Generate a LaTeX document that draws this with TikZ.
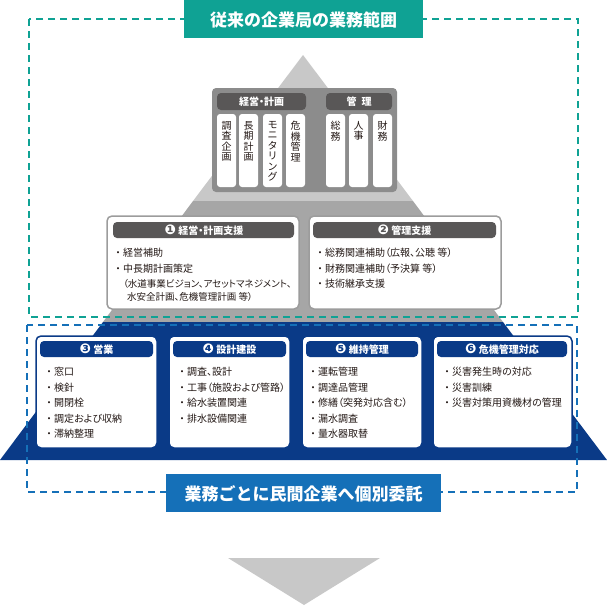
\documentclass[tikz,border=0pt]{standalone}
\usepackage{fontspec}
\setmainfont{Noto Sans CJK JP}
\newfontfamily\jpp[RawFeature=+palt]{Noto Sans CJK JP}
\newfontfamily\dvs{DejaVu Sans}
\newcommand\bul{{\rmfamily ・}}
\newcommand\cnum[1]{\raisebox{-0.5pt}{\dvs\fontsize{13.5}{13.5}\selectfont #1}}
\definecolor{teal1}{HTML}{0FA294}
\definecolor{navy}{HTML}{0A3A87}
\definecolor{midblue}{HTML}{1570B8}
\definecolor{lgray}{HTML}{C8C8C8}
\definecolor{mgray}{HTML}{A6A6A6}
\definecolor{boxgray}{HTML}{8C8C8C}
\definecolor{dgray}{HTML}{595757}
\definecolor{bordgray}{HTML}{9C9C9C}
\definecolor{txt}{HTML}{231815}

\begin{document}
\begin{tikzpicture}[x=1pt,y=-1pt,
  dline/.style={line width=2.6pt,dash pattern=on 7pt off 5pt},
  ttl/.style={text=white,inner sep=0,font=\fontsize{17}{17}\selectfont\bfseries},
  htxt/.style={text=white,inner sep=0,font=\jpp\fontsize{10}{10}\selectfont\bfseries},
  ctxt/.style={anchor=north,inner sep=0,text width=12pt,align=center,text=txt,font=\fontsize{10}{10.5}\selectfont},
  body/.style={anchor=base west,inner sep=0,text=txt,font=\jpp\fontsize{10}{10}\selectfont},
  mbox/.style={fill=white,draw=bordgray,line width=1.5pt,rounded corners=5pt},
  bbox/.style={fill=white,draw=navy,line width=1.5pt,rounded corners=5pt}]
\useasboundingbox (0,0) rectangle (607,605);
\fill[lgray] (303,55) -- (413,201) -- (193,201) -- cycle;
\fill[mgray] (193,201) -- (413,201) -- (503,322) -- (103,322) -- cycle;
\fill[navy] (103,322) -- (503,322) -- (607,460) -- (0,460) -- cycle;
\draw[dline,teal1] (29,19) rectangle (578,317);
\draw[dline,midblue] (27,325) rectangle (577,492);
\fill[teal1] (184,0) rectangle (423,38);
\node[ttl] (title) at (303.5,19.5) {従来の企業局の業務範囲};
\fill[boxgray,rounded corners=4pt] (212,88) rectangle (397,192);
\fill[dgray,rounded corners=4pt] (217,93) rectangle (306,110);
\node[htxt] (k1) at (261.5,101.5) {経営・計画};
\fill[dgray,rounded corners=4pt] (326,93) rectangle (392,110);
\node[htxt] (k2) at (359,101.5) {管\hspace{5pt}理};
\foreach \x/\t [count=\i] in {217/{調\\査\\企\\画},239/{長\\期\\計\\画},263/{モ\\ニ\\タ\\リ\\ン\\グ},286/{危\\機\\管\\理},326/{総\\務},349/{人\\事},373/{財\\務}}{
  \fill[white,rounded corners=3pt] (\x,114) rectangle ++(19,73);
  \node[ctxt] (c\i) at (\x+9.5,121) {\t};
}
\draw[mbox] (107,216) rectangle (299,309);
\draw[mbox] (309,216) rectangle (501,309);
\fill[dgray,rounded corners=4pt] (113,222) rectangle (294,238);
\fill[dgray,rounded corners=4pt] (313,222) rectangle (496,238);
\node[htxt] (h1) at (204,230) {\cnum{❶}\ 経営・計画支援};
\node[htxt] (h2) at (404.5,230) {\cnum{❷}\ 管理支援};
\node[body] (a1) at (113,256.5) {\bul 経営補助};
\node[body] (a2) at (113,272.5) {\bul 中長期計画策定};
\node[body,font=\jpp\fontsize{9.5}{10}\selectfont] (a3) at (123,287.5) {（水道事業ビジョン、アセットマネジメント、};
\node[body,font=\jpp\fontsize{9.5}{10}\selectfont] (a4) at (127,300.5) {水安全計画、危機管理計画 等）};
\node[body] (b1) at (315,256.5) {\bul 総務関連補助（広報、公聴 等）};
\node[body] (b2) at (315,272.5) {\bul 財務関連補助（予決算 等）};
\node[body] (b3) at (315,287.5) {\bul 技術継承支援};
\draw[bbox] (36,336) rectangle (157,448);
\draw[bbox] (169,336) rectangle (290,448);
\draw[bbox] (302,336) rectangle (422,448);
\draw[bbox] (433,336) rectangle (572,448);
\fill[navy,rounded corners=4pt] (40,341) rectangle (153,357);
\fill[navy,rounded corners=4pt] (173,341) rectangle (286,357);
\fill[navy,rounded corners=4pt] (306,341) rectangle (418,357);
\fill[navy,rounded corners=4pt] (437,341) rectangle (567,357);
\node[htxt] (h3) at (96.5,349) {\cnum{❸}\ 営業};
\node[htxt] (h4) at (229.5,349) {\cnum{❹}\ 設計建設};
\node[htxt] (h5) at (362,349) {\cnum{❺}\ 維持管理};
\node[htxt] (h6) at (502,349) {\cnum{❻}\ 危機管理対応};
\foreach \t [count=\i] in {窓口,検針,開閉栓,調定および収納,滞納整理}
  \node[body] (e\i) at (44,375.5+15.5*\i-15.5) {\bul\t};
\foreach \t [count=\i] in {調査、設計,工事（施設および管路）,給水装置関連,排水設備関連}
  \node[body] (f\i) at (177,375.5+15.5*\i-15.5) {\bul\t};
\foreach \t [count=\i] in {運転管理,調達品管理,修繕（突発対応含む）,漏水調査,量水器取替}
  \node[body] (g\i) at (308,375.5+15.5*\i-15.5) {\bul\t};
\foreach \t [count=\i] in {災害発生時の対応,災害訓練,災害対策用資機材の管理}
  \node[body] (m\i) at (442,375.5+15.5*\i-15.5) {\bul\t};
\fill[midblue] (166,474) rectangle (441,512);
\node[ttl] (label) at (303.5,493.5) {業務ごとに民間企業へ個別委託};
\fill[lgray] (228,558) -- (380,558) -- (304,605) -- cycle;
\end{tikzpicture}
\end{document}
